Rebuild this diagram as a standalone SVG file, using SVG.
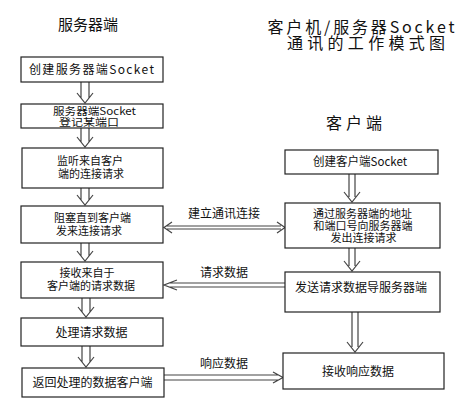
<svg xmlns="http://www.w3.org/2000/svg" width="469" height="407" viewBox="0 0 469 407">
<style>
text{font-family:"Noto Sans CJK SC","Liberation Sans",sans-serif;fill:#111;text-anchor:middle}
.t{font-size:12px}
.s{font-size:11px}
.x{font-size:10.5px}
.h{font-size:15px}
.H{font-size:16px}
.box{fill:#fff;stroke:#222;stroke-width:1.2}
.c{fill:none;stroke:#444;stroke-width:1.2}
</style>
<rect width="469" height="407" fill="#fff"/>
<g id="titles">
<text class="h" x="88" y="30">服务器端</text>
<text class="H" x="361" y="33" textLength="187" lengthAdjust="spacing">客户机/服务器Socket</text>
<text class="H" x="366" y="49" textLength="158" lengthAdjust="spacing">通讯的工作模式图</text>
<text class="H" x="354" y="129" textLength="56" lengthAdjust="spacing">客户端</text>
</g>
<g id="connectors">
<path class="c" d="M81,82V98M89,82V98M77,93L85,103L93,93"/>
<path class="c" d="M81,128V142M89,128V142M77,137L85,147L93,137"/>
<path class="c" d="M81,188V200M89,188V200M77,195L85,205L93,195"/>
<path class="c" d="M81,243V256M89,243V256M77,251L85,261L93,251"/>
<path class="c" d="M82,298V312M90,298V312M78,307L86,317L94,307"/>
<path class="c" d="M82,346V362M90,346V362M78,357L86,367L94,357"/>
<path class="c" d="M349,174V197M355,174V197M344,192L352,202L360,192"/>
<path class="c" d="M349,248V266M355,248V266M344,261L352,271L360,261"/>
<path class="c" d="M352,312V347M358,312V347M347,342L355,352L363,342"/>
<path class="c" d="M167,226H281M167,229H281M172,222L164,227.5L172,233M277,222L285,227.5L277,233"/>
<path class="c" d="M169,283H285M169,287H285M177,280L164,285L177,290"/>
<path class="c" d="M164,375H278M164,380H278M273,372L283,377.5L273,383"/>
</g>
<g id="n1"><rect class="box" x="21" y="57" width="142" height="25"/><text class="t" x="91.5" y="74" textLength="125" lengthAdjust="spacing">创建服务器端Socket</text></g>
<g id="n2"><rect class="box" x="21" y="104" width="142" height="24"/><text class="x" x="94.5" y="114.5" textLength="83" lengthAdjust="spacingAndGlyphs">服务器端Socket</text><text class="x" x="89" y="125.5" textLength="60" lengthAdjust="spacingAndGlyphs">登记某端口</text></g>
<g id="n3"><rect class="box" x="22" y="148" width="141" height="40"/><text class="s" x="90" y="165">监听来自客户</text><text class="s" x="91" y="178">端的连接请求</text></g>
<g id="n4"><rect class="box" x="21" y="206" width="142" height="37"/><text class="s" x="92.5" y="222">阻塞直到客户端</text><text class="s" x="89" y="235">发来连接请求</text></g>
<g id="n5"><rect class="box" x="21" y="262" width="142" height="36"/><text class="s" x="87" y="277">接收来自于</text><text class="s" x="91" y="290">客户端的请求数据</text></g>
<g id="n6"><rect class="box" x="21" y="318" width="142" height="28"/><text class="t" x="91.5" y="336.5">处理请求数据</text></g>
<g id="n7"><rect class="box" x="22" y="368" width="142" height="29"/><text class="t" x="92.5" y="386.5">返回处理的数据客户端</text></g>
<g id="r1"><rect class="box" x="285" y="150" width="153" height="24"/><text class="t" x="360" y="165.5" textLength="94" lengthAdjust="spacingAndGlyphs">创建客户端Socket</text></g>
<g id="r2"><rect class="box" x="285" y="203" width="155" height="45"/><text class="s" x="362.5" y="218">通过服务器端的地址</text><text class="s" x="363" y="230">和端口号向服务器端</text><text class="s" x="363.5" y="242">发出连接请求</text></g>
<g id="r3"><rect class="box" x="285" y="272" width="155" height="40"/><text class="t" x="361" y="291.5">发送请求数据导服务器端</text></g>
<g id="r4"><rect class="box" x="283" y="353" width="161" height="36"/><text class="t" x="358" y="375.5">接收响应数据</text></g>
<g id="labels">
<text class="t" x="224" y="218">建立通讯连接</text>
<text class="t" x="224" y="277">请求数据</text>
<text class="t" x="224" y="368">响应数据</text>
</g>
</svg>
